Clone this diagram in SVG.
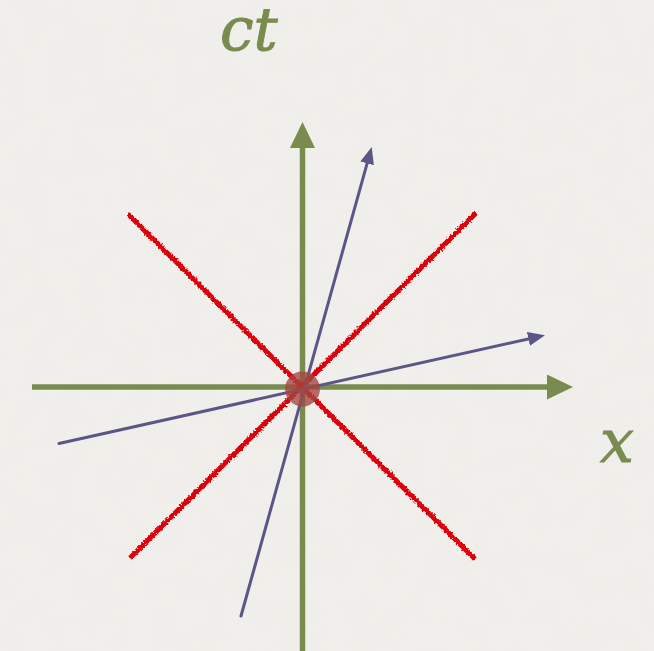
<svg xmlns="http://www.w3.org/2000/svg" width="654" height="651" viewBox="0 0 654 651">
  <style>
    .axis { stroke: #7a8b4f; stroke-width: 5.5; fill: none; }
    .world { stroke: #5c5687; stroke-width: 3; fill: none; stroke-linecap: round; }
    .light { stroke: #dc0008; stroke-width: 5; fill: none; filter: url(#rough); }
    .label { font-family: "DejaVu Serif", "Liberation Serif", serif; font-style: italic; font-size: 60px; fill: #7a8b4f; stroke: #7a8b4f; stroke-width: 1; }
  </style>
  <defs>
    <marker id="arrowGreen" markerUnits="userSpaceOnUse" markerWidth="26" markerHeight="25" viewBox="0 0 26 25" refX="0" refY="12.5" orient="auto">
      <path d="M0,0 L26,12.5 L0,25 z" fill="#7a8b4f"/>
    </marker>
    <marker id="arrowBlue" markerUnits="userSpaceOnUse" markerWidth="17" markerHeight="14" viewBox="0 0 17 14" refX="1" refY="7" orient="auto">
      <path d="M0,0 L17,7 L0,14 z" fill="#5c5687"/>
    </marker>
    <filter id="rough" x="-5%" y="-5%" width="110%" height="110%">
      <feTurbulence type="fractalNoise" baseFrequency="0.5" numOctaves="2" seed="3" result="n"/>
      <feDisplacementMap in="SourceGraphic" in2="n" scale="4" xChannelSelector="R" yChannelSelector="G"/>
    </filter>
    <filter id="paper" x="0" y="0" width="100%" height="100%">
      <feTurbulence type="fractalNoise" baseFrequency="0.04" numOctaves="3" seed="7"/>
      <feColorMatrix type="matrix" values="0 0 0 0 0.5  0 0 0 0 0.5  0 0 0 0 0.45  0 0 0 0.06 0"/>
    </filter>
  </defs>

  <rect width="654" height="651" fill="#f1f0ec"/>
  <rect width="654" height="651" filter="url(#paper)"/>

  <g id="connectors">
    <g id="axes">
      <line id="ct-axis" class="axis" x1="302.5" y1="651" x2="302.5" y2="148" marker-end="url(#arrowGreen)"/>
      <line id="x-axis" class="axis" x1="32" y1="387" x2="547" y2="387" marker-end="url(#arrowGreen)"/>
    </g>
    <g id="light-cone">
      <line class="light" x1="128" y1="214" x2="475" y2="559"/>
      <line class="light" x1="476" y1="213" x2="130" y2="558"/>
    </g>
    <g id="worldlines">
      <line class="world" x1="241" y1="616" x2="367.4" y2="162.4" marker-end="url(#arrowBlue)"/>
      <line class="world" x1="59" y1="443.5" x2="529.4" y2="338.7" marker-end="url(#arrowBlue)"/>
    </g>
  </g>

  <g id="event">
    <circle cx="302.5" cy="389" r="17.5" fill="#a4463f" fill-opacity="0.78"/>
  </g>

  <g id="label-ct">
    <text class="label" x="220" y="50">ct</text>
  </g>
  <g id="label-x">
    <text class="label" x="600" y="462">x</text>
  </g>
</svg>
